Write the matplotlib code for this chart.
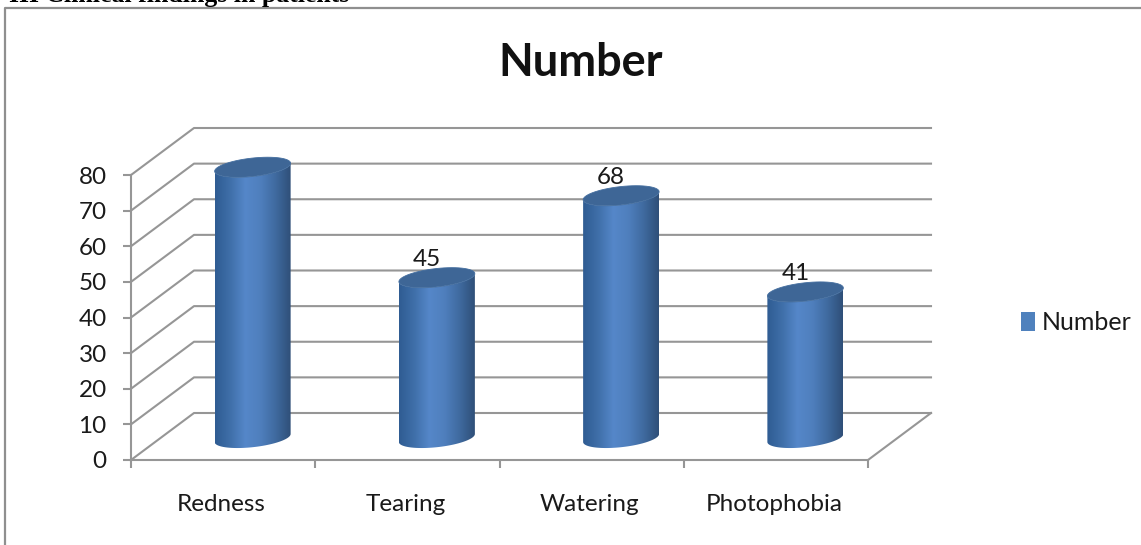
import numpy as np
import matplotlib
matplotlib.use("Agg")
import matplotlib.pyplot as plt
from matplotlib.colors import LinearSegmentedColormap
from matplotlib.lines import Line2D
from matplotlib.patches import Patch, PathPatch
from matplotlib.path import Path
from matplotlib.transforms import ScaledTranslation

categories = ["Redness", "Tearing", "Watering", "Photophobia"]
values = [76, 45, 68, 41]
y_ticks = [0, 10, 20, 30, 40, 50, 60, 70, 80]
series_name = "Number"
heading = "III Clinical findings in patients"

W, H = 1141, 545
GRID = "#969696"
TEXT = "#1a1a1a"
plt.rcParams["font.family"] = ["Lato", "DejaVu Sans"]

fig = plt.figure(figsize=(W / 100, H / 100), dpi=100)
ax = fig.add_axes([131 / W, (H - 460) / H, 737 / W, 285 / H])
ax.set_xlim(0, 4)
ax.set_ylim(0, 80)

# pixel sizes expressed in data units
px_x = 4 / 737
px_y = 80 / 285
depth_x = 63 * px_x
depth_y = 47 * px_y


def ellipse(cx, cy, start, stop, n=60):
    # sheared ellipse, the right side sits higher than the left
    t = np.linspace(start, stop, n)
    xs = cx + 38 * px_x * np.cos(t)
    ys = cy + (9.2 * np.sin(t) + 4 * np.cos(t)) * px_y
    return np.column_stack([xs, ys])


# back wall and floor
for v in y_ticks:
    ax.plot([0, depth_x, 4 + depth_x], [v, v + depth_y, v + depth_y],
            color=GRID, lw=1.5, clip_on=False, zorder=1)
ax.plot([4, 4 + depth_x], [0, depth_y], color=GRID, lw=1.5, clip_on=False, zorder=1)

body_cmap = LinearSegmentedColormap.from_list(
    "cyl", ["#2f5c92", "#3f6fa9", "#5587c9", "#4f7fbd", "#3f6a9f", "#2f4f78"])
gradient = np.linspace(0, 1, 256).reshape(1, -1)

for i, val in enumerate(values):
    cx = i + 0.5 + depth_x / 2 - 2 * px_x
    base = depth_y / 2 - 1.5 * px_y
    top = base + val
    # a cylinder side: lower half of the base ellipse, then back along the top
    lower = ellipse(cx, base, np.pi, 2 * np.pi)
    upper = ellipse(cx, top, 2 * np.pi, np.pi)
    outline = np.vstack([lower, upper, lower[:1]])
    body = PathPatch(Path(outline), fc="none", ec="none", zorder=3, clip_on=False)
    ax.add_patch(body)
    im = ax.imshow(gradient, cmap=body_cmap, aspect="auto", zorder=3,
                   extent=[cx - 38 * px_x, cx + 38 * px_x, base - 12 * px_y, top + 12 * px_y])
    im.set_clip_path(body)
    im.set_clip_box(fig.bbox)
    cap = ellipse(cx, top, 0, 2 * np.pi)
    ax.add_patch(PathPatch(Path(cap), fc="#3e6696", ec="#446e9f", lw=0.6, zorder=4, clip_on=False))
    ax.annotate(str(val), (cx, top), xytext=(-10 * 0.72, 18 * 0.72), textcoords="offset points",
                ha="center", va="center", fontsize=17.5, color=TEXT, zorder=5)

ax.set_xlim(0, 4)
ax.set_ylim(0, 80)
ax.patch.set_visible(False)

for side in ["top", "right"]:
    ax.spines[side].set_visible(False)
for side in ["left", "bottom"]:
    ax.spines[side].set_color(GRID)
    ax.spines[side].set_linewidth(1.5)
    ax.spines[side].set_zorder(2)

ax.set_yticks(y_ticks)
ax.set_xticks(range(5))
ax.set_xticklabels([])
ax.set_xticks([i + 0.5 for i in range(4)], labels=categories, minor=True)
ax.tick_params(axis="both", which="major", length=5.5, width=1.5, color=GRID)
ax.tick_params(axis="y", labelsize=17.5, labelcolor=TEXT, pad=12)
ax.tick_params(axis="x", which="minor", length=0, labelsize=17.5, labelcolor=TEXT, pad=24.5)
# category names sit slightly left of the slot centres
nudge = ScaledTranslation(-2 / 100, 0, fig.dpi_scale_trans)
for label in ax.get_xticklabels(minor=True):
    label.set_transform(label.get_transform() + nudge)

fig.text(581 / W, 1 - 63 / H, series_name, ha="center", va="center",
         fontsize=32.5, fontweight="bold", color="#111111")

fig.legend(handles=[Patch(fc="#4f81bd", ec="none", label=series_name)], frameon=False,
           loc="center left", bbox_to_anchor=(1021 / W, 1 - 323 / H), fontsize=18,
           handlelength=0.55, handleheight=0.8, handletextpad=0.3, labelcolor=TEXT,
           borderpad=0, borderaxespad=0)

# outer chart frame
fig.add_artist(Line2D([4.5 / W, 4.5 / W, 1], [0, 1 - 8 / H, 1 - 8 / H], color="#8f8f8f", lw=1.6))

fig.text(349 / W, 1 - 2 / H, heading, ha="right", va="baseline", fontsize=18.5,
         fontweight="bold", family="Liberation Serif", color="black")

fig.savefig("out.png", dpi=100)
